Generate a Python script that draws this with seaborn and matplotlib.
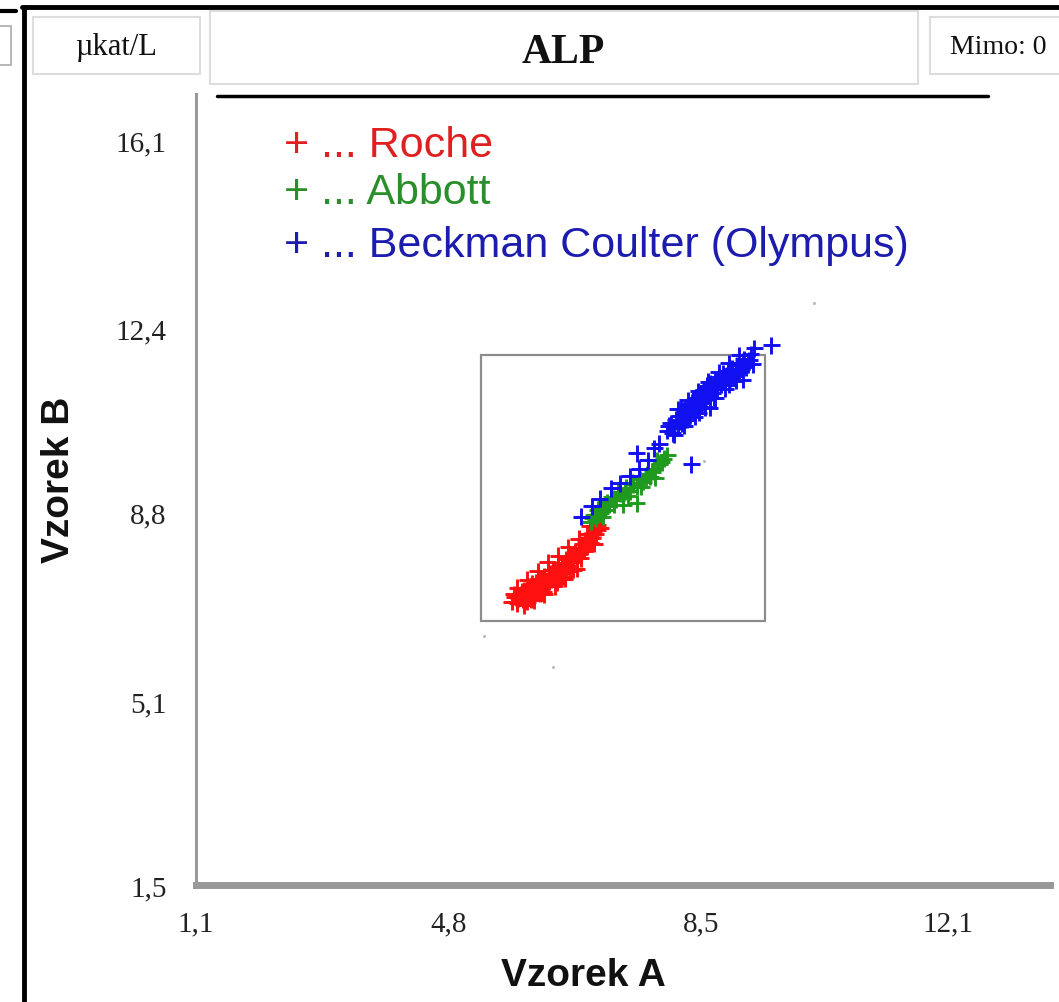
import numpy as np
import pandas as pd
import matplotlib
matplotlib.use("Agg")
import matplotlib.pyplot as plt
from matplotlib.patches import Rectangle
from matplotlib.lines import Line2D
import seaborn as sns

# ---------------- data ----------------
roche_x = [5.72, 5.78, 5.80, 5.85, 5.88, 5.90, 5.93, 5.95, 5.98, 6.00, 6.03, 6.05,
           6.08, 6.10, 6.12, 6.15, 6.18, 6.20, 6.22, 6.25, 6.28, 6.30, 6.33, 6.35,
           6.38, 6.40, 6.42, 6.45, 6.48, 6.50, 6.52, 6.55, 6.58, 6.60, 6.62, 6.65,
           6.68, 6.70, 6.72, 6.75, 6.78, 6.80, 6.85, 6.88, 6.92, 6.97, 7.02,
           6.93, 6.67, 6.47, 5.76, 6.86,
           5.75, 5.82, 5.87, 5.92, 5.97, 6.02, 6.07, 6.11, 6.16, 6.21, 6.26, 6.31,
           6.36, 6.41, 6.46, 6.51, 6.56, 6.61, 6.66, 6.71, 6.76, 6.82, 6.90, 6.95,
           6.00, 6.13, 6.27, 6.43, 6.57, 6.73, 6.83, 6.98,
           5.80, 5.95, 6.10, 6.25, 6.40, 6.55, 6.70, 5.90, 6.05, 6.20, 6.35, 6.50]
roche_y = [7.05, 7.15, 7.02, 7.20, 7.10, 7.28, 7.18, 7.05, 7.35, 7.22, 7.30, 7.15,
           7.42, 7.30, 7.50, 7.38, 7.25, 7.55, 7.44, 7.35, 7.60, 7.48, 7.68, 7.55,
           7.42, 7.72, 7.60, 7.80, 7.66, 7.52, 7.88, 7.75, 7.95, 7.82, 7.68, 8.02,
           7.90, 8.10, 7.98, 8.18, 8.05, 8.25, 8.30, 8.20, 8.40, 8.45, 8.50,
           8.19, 7.70, 7.54, 7.15, 8.54,
           7.20, 7.12, 7.25, 7.10, 7.25, 7.40, 7.28, 7.40, 7.48, 7.40, 7.52, 7.60,
           7.66, 7.60, 7.70, 7.78, 7.85, 7.92, 7.95, 8.02, 8.10, 8.15, 8.30, 8.38,
           7.10, 7.22, 7.45, 7.52, 7.65, 7.90, 8.38, 8.55,
           7.32, 7.48, 7.65, 7.82, 7.95, 8.12, 8.28, 6.98, 7.08, 7.20, 7.35, 7.50]

abbott_x = [6.88, 6.92, 6.95, 6.98, 7.02, 7.05, 7.08, 7.12, 7.15, 7.20, 7.25, 7.30,
            7.35, 7.40, 7.45, 7.50, 7.55, 7.60, 7.65, 7.70, 7.75, 7.80, 7.88, 7.95,
            8.00, 7.55, 7.35,
            6.90, 7.00, 7.10, 7.18, 7.28, 7.38, 7.48, 7.58, 7.68, 7.78, 7.85, 7.92,
            7.05, 7.22, 7.42, 7.62, 7.82]
abbott_y = [8.62, 8.75, 8.68, 8.85, 8.78, 8.92, 8.85, 9.00, 8.95, 9.08, 9.05, 9.18,
            9.12, 9.28, 9.22, 9.35, 9.30, 9.45, 9.40, 9.55, 9.50, 9.65, 9.75, 9.85,
            9.92, 8.98, 8.95,
            8.70, 8.90, 8.92, 9.10, 9.20, 9.22, 9.38, 9.50, 9.48, 9.60, 9.82, 9.78,
            8.72, 8.95, 9.12, 9.30, 9.48]

beckman_x = [6.74, 7.18, 7.30, 7.45, 7.59, 7.55, 7.71, 7.81, 7.88, 7.01, 6.89,
             8.00, 8.05, 8.08, 8.12, 8.15, 8.18, 8.22, 8.25, 8.28, 8.30, 8.33, 8.36,
             8.40, 8.42, 8.45, 8.48, 8.50, 8.53, 8.55, 8.58, 8.60, 8.63, 8.66, 8.70,
             8.72, 8.75, 8.78, 8.82, 8.85, 8.88, 8.92, 8.95, 8.98, 9.02, 9.05, 9.10,
             9.15, 9.20, 9.25, 8.62, 9.10, 9.27, 9.52, 8.35,
             8.02, 8.10, 8.17, 8.20, 8.27, 8.35, 8.38, 8.44, 8.52, 8.57, 8.62, 8.68,
             8.74, 8.80, 8.87, 8.94, 9.00, 9.08, 9.12, 9.18, 8.46, 8.68, 8.90, 9.22,
             8.10, 8.25, 8.40, 8.55, 8.70, 8.85, 9.00, 8.15, 8.30, 8.45, 8.60, 8.75,
             8.90, 9.05]
beckman_y = [8.72, 9.27, 9.37, 9.51, 9.66, 9.96, 9.82, 10.06, 10.15, 9.07, 8.92,
             10.40, 10.55, 10.35, 10.62, 10.48, 10.70, 10.55, 10.80, 10.62, 10.90, 10.72, 10.95,
             10.80, 11.05, 10.88, 11.12, 10.95, 11.20, 11.02, 11.28, 11.10, 11.32, 11.15, 11.40,
             11.22, 11.45, 11.30, 11.52, 11.35, 11.58, 11.42, 11.62, 11.48, 11.68, 11.55, 11.72,
             11.65, 11.78, 11.70, 10.85, 11.40, 12.02, 12.08, 9.74,
             10.50, 10.45, 10.58, 10.82, 10.75, 10.85, 11.00, 10.95, 11.05, 11.15, 11.22, 11.30,
             11.35, 11.40, 11.48, 11.52, 11.60, 11.62, 11.80, 11.70, 10.75, 11.05, 11.30, 11.90,
             10.32, 10.50, 10.68, 10.86, 11.04, 11.22, 11.38, 10.82, 11.00, 11.18, 11.36, 11.55,
             11.72, 11.88]

faint_x = [10.15, 5.31, 6.32, 8.54]
faint_y = [12.90, 6.37, 5.78, 9.80]

box_x = [5.27, 9.43]
box_y = [6.68, 11.88]

x_ticks = [1.1, 4.8, 8.5, 12.1]
x_ticklabels = ["1,1", "4,8", "8,5", "12,1"]
y_ticks = [1.5, 5.1, 8.8, 12.4, 16.1]
y_ticklabels = ["1,5", "5,1", "8,8", "12,4", "16,1"]

series_names = ["Roche", "Abbott", "Beckman Coulter (Olympus)"]
marker_colors = ["#ff1010", "#1f9a1f", "#1010f0"]
legend_colors = ["#e02020", "#2a8f2a", "#1c1cae"]

df = pd.DataFrame({
    "A": roche_x + abbott_x + beckman_x,
    "B": roche_y + abbott_y + beckman_y,
    "Výrobce": ([series_names[0]] * len(roche_x) + [series_names[1]] * len(abbott_x)
                + [series_names[2]] * len(beckman_x)),
})

# ---------------- figure ----------------
W, H = 1059, 1003
sns.set_style("white")
plt.rcParams["font.family"] = ["Liberation Sans", "DejaVu Sans"]
fig = plt.figure(figsize=(W / 100, H / 100), dpi=100)
fig.patch.set_facecolor("white")

def fx(x):
    return x / W

def fy(y):
    return 1 - y / H

ax_left, ax_right, ax_top, ax_bottom = 196, 1050, 95, 886
ax = fig.add_axes([fx(ax_left), fy(ax_bottom), (ax_right - ax_left) / W,
                   (ax_bottom - ax_top) / H])
ax.set_facecolor("white")

# faint background specks
ax.scatter(faint_x, faint_y, s=5, color="#bbbbbb", linewidths=0, zorder=1)

# inset box
ax.add_patch(Rectangle((box_x[0], box_y[0]), box_x[1] - box_x[0], box_y[1] - box_y[0],
                       fill=False, edgecolor="#8c8c8c", lw=1.6, zorder=1))

sns.scatterplot(data=df, x="A", y="B", hue="Výrobce", hue_order=series_names,
                palette=marker_colors, marker="+", s=150, linewidth=2.1,
                legend=False, ax=ax, zorder=3)

ax.set_xlim(1.1, 13.6)
ax.set_ylim(1.5, 17.0)
ax.set_xticks(x_ticks)
ax.set_xticklabels(x_ticklabels)
ax.set_yticks(y_ticks)
ax.set_yticklabels(y_ticklabels)
for lab in ax.get_xticklabels() + ax.get_yticklabels():
    lab.set_fontfamily("Liberation Serif")
    lab.set_fontsize(21)
    lab.set_color("#222222")
ax.tick_params(axis="both", direction="out", length=8, width=1.2, color="#999999")
ax.tick_params(axis="x", pad=10)
ax.tick_params(axis="y", pad=13)

for side in ["top", "right"]:
    ax.spines[side].set_visible(False)
ax.spines["left"].set_color("#999999")
ax.spines["left"].set_linewidth(2.2)
ax.spines["bottom"].set_color("#999999")
ax.spines["bottom"].set_linewidth(5)

ax.set_xlabel("Vzorek A", fontsize=28, fontweight="bold", color="#111111")
ax.set_ylabel("Vzorek B", fontsize=28, fontweight="bold", color="#111111")
ax.xaxis.set_label_coords((583 - ax_left) / (ax_right - ax_left),
                          (ax_bottom - 958) / (ax_bottom - ax_top))
ax.yaxis.set_label_coords((77 - ax_left) / (ax_right - ax_left),
                          (ax_bottom - 480) / (ax_bottom - ax_top))

# legend as coloured text lines
legend_base = [157, 204, 257]
for name, col, yb in zip(series_names, legend_colors, legend_base):
    fig.text(fx(284), fy(yb), "+ ... " + name, color=col, fontsize=31,
             ha="left", va="baseline")

# ---------------- page chrome ----------------
fig.add_artist(Line2D([fx(24), fx(24)], [fy(8), fy(1003)], color="black", lw=3.5))
fig.add_artist(Line2D([fx(22), fx(1059)], [fy(8), fy(8)], color="black", lw=3.5))
fig.add_artist(Line2D([fx(0), fx(16)], [fy(12), fy(12)], color="black", lw=3))
fig.add_artist(Rectangle((fx(-5), fy(66)), fx(16), (66 - 27) / H, fill=False,
                         edgecolor="#aaaaaa", lw=1.2))
header_boxes = [(33, 18, 200, 75), (210, 12, 918, 85), (930, 18, 1080, 75)]
for x0, y0, x1, y1 in header_boxes:
    fig.add_artist(Rectangle((fx(x0), fy(y1)), (x1 - x0) / W, (y1 - y0) / H,
                             facecolor="white", edgecolor="#dddddd", lw=1.5))
fig.text(fx(116), fy(48), "µkat/L", fontfamily="Liberation Serif", fontsize=22,
         ha="center", va="center", color="#111111")
fig.text(fx(563), fy(53), "ALP", fontfamily="Liberation Serif", fontsize=30,
         fontweight="bold", ha="center", va="center", color="#111111")
fig.text(fx(950), fy(48), "Mimo: 0", fontfamily="Liberation Serif", fontsize=20,
         ha="left", va="center", color="#111111")
fig.add_artist(Line2D([fx(217), fx(988)], [fy(97), fy(97)], color="black", lw=2.5))

fig.savefig("out.png", dpi=100, facecolor="white")
